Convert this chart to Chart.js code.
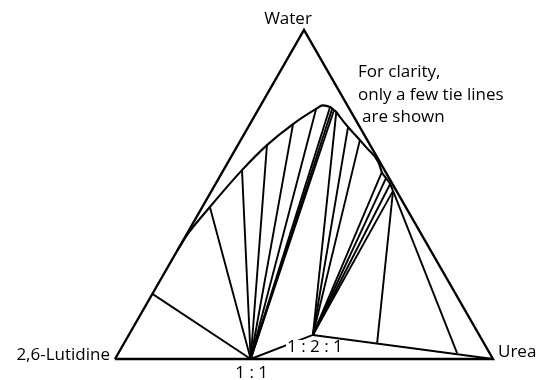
<!DOCTYPE html>
<html>
<head>
<meta charset="utf-8">
<script src="https://cdn.jsdelivr.net/npm/chart.js@4/dist/chart.umd.min.js"></script>
<style>
  html, body { margin: 0; padding: 0; background: #fff; }
  canvas { display: block; }
</style>
</head>
<body>
<canvas id="chart" width="540" height="380"></canvas>
<script>
// compositions in mass %, written as [water, urea]; 2,6-lutidine is the rest
const corners = [[0, 0], [0, 100], [100, 0], [0, 0]];
const cornerLabels = ['2,6-Lutidine', 'Urea', 'Water'];
const compound11 = [0, 35.9];
const compound121 = [7.3, 48.7];
const compoundLabels = ['1 : 1', '1 : 2 : 1'];
const noteLines = ['For clarity,', 'only a few tie lines', 'are shown'];

// boundary of the liquid region
const binodal = [
  [33.0, 0], [38.3, 0.3], [46.2, 2.0], [57.4, 4.9], [65.0, 7.7], [71.4, 11.4], [76.0, 15.2],
  [77.1, 16.4], [76.6, 18.6], [75.7, 20.1], [75.1, 21.0], [73.6, 22.7],
  [70.5, 26.4], [67.5, 30.3], [64.1, 34.6], [59.9, 39.7], [56.8, 42.2],
  [55.0, 44.2], [53.2, 46.2], [51.1, 48.0]
];

// liquid ends of tie lines to the 1:1 compound
const ties11 = [
  [19.8, 0], [46.2, 2.0], [57.4, 4.9], [65.0, 7.7], [71.4, 11.4],
  [76.0, 15.2], [76.6, 18.6], [76.2, 19.4], [75.7, 20.1]
];
// liquid ends of tie lines to the 1:2:1 compound
const ties121 = [
  [75.1, 21.0], [70.5, 26.4], [66.6, 31.5], [56.8, 42.2],
  [55.0, 44.2], [53.2, 46.2], [51.1, 48.0]
];
// lines from the urea-rich corner point down to the solid line
const cornerPoint = [51.1, 48.0];
const cornerTies = [[4.9, 66.9], [1.8, 89.6]];
const solidLine = [compound11, compound121, [0, 100]];

// ternary -> plane (lutidine at 0,0  urea at 1,0  water at 0.5,1)
function pt(c) {
  const w = c[0] / 100, u = c[1] / 100;
  return { x: u + w / 2, y: w };
}

function lineSet(points, width) {
  return {
    data: points.map(pt),
    showLine: true,
    borderColor: '#000',
    borderWidth: width,
    pointRadius: 0,
    pointHoverRadius: 0,
    fill: false,
    clip: false
  };
}

const datasets = [];
datasets.push(Object.assign(lineSet(corners, 2.4), { borderJoinStyle: 'miter' }));
datasets.push(Object.assign(lineSet(binodal, 2.1), { tension: 0.4, cubicInterpolationMode: 'monotone' }));
ties11.forEach(p => datasets.push(lineSet([compound11, p], 1.9)));
ties121.forEach(p => datasets.push(lineSet([compound121, p], 1.9)));
cornerTies.forEach(p => datasets.push(lineSet([cornerPoint, p], 1.9)));
datasets.push(lineSet(solidLine, 1.9));

const FONT = '17px "Open Sans", "DejaVu Sans", sans-serif';

const labelPlugin = {
  id: 'labels',
  afterDatasetsDraw(chart) {
    const ctx = chart.ctx;
    const sx = chart.scales.x, sy = chart.scales.y;
    const px = c => { const p = pt(c); return { x: sx.getPixelForValue(p.x), y: sy.getPixelForValue(p.y) }; };
    const L = px(corners[0]), U = px(corners[1]), W = px(corners[2]);
    const c11 = px(compound11), c121 = px(compound121);

    ctx.save();
    ctx.font = FONT;
    ctx.fillStyle = '#000';
    ctx.textBaseline = 'alphabetic';

    ctx.textAlign = 'right';
    ctx.fillText(cornerLabels[0], L.x - 5, L.y + 1);
    ctx.textAlign = 'left';
    ctx.fillText(cornerLabels[1], U.x + 5, U.y - 2);
    ctx.textAlign = 'center';
    ctx.fillText(cornerLabels[2], W.x - 16, W.y - 6);

    ctx.fillText(compoundLabels[0], c11.x + 1, c11.y + 19);

    // 1:2:1 label sits over the lines with a white backing
    const t = compoundLabels[1];
    const tw = ctx.measureText(t).width;
    const bx = c121.x + 2, by = c121.y + 17;
    ctx.fillStyle = '#fff';
    ctx.fillRect(bx - tw / 2 - 1, by - 12, tw + 2, 14);
    ctx.fillStyle = '#000';
    ctx.fillText(t, bx, by);

    ctx.textAlign = 'left';
    ctx.fillText(noteLines[0], W.x + 54, W.y + 47);
    ctx.fillText(noteLines[1], W.x + 54, W.y + 70);
    ctx.fillText(noteLines[2], W.x + 58, W.y + 92);
    ctx.restore();
  }
};

new Chart(document.getElementById('chart'), {
  type: 'scatter',
  data: { datasets },
  options: {
    responsive: false,
    animation: false,
    devicePixelRatio: 1,
    layout: { padding: { left: 115, right: 47, top: 30, bottom: 21 } },
    plugins: { legend: { display: false }, tooltip: { enabled: false } },
    scales: {
      x: { type: 'linear', min: 0, max: 1, display: false },
      y: { type: 'linear', min: 0, max: 1, display: false }
    }
  },
  plugins: [labelPlugin]
});
</script>
</body>
</html>
